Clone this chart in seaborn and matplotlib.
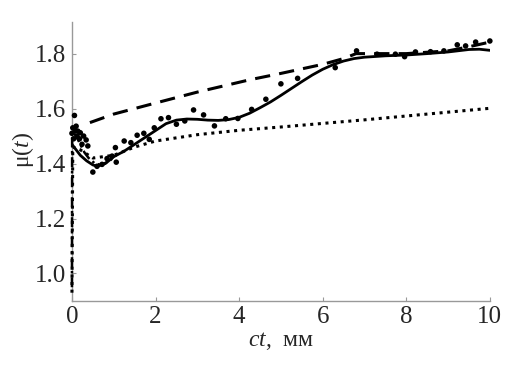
import matplotlib
matplotlib.use("Agg")
import matplotlib.pyplot as plt
import seaborn as sns

# measured points
pts_x = [0.0, 0.02, 0.04, 0.06, 0.08, 0.1, 0.12, 0.14, 0.18, 0.2, 0.24, 0.28, 0.34, 0.38,
         0.5, 0.6, 0.72, 0.84, 0.96, 1.04, 1.06, 1.25, 1.41, 1.56, 1.72, 1.85, 1.97,
         2.13, 2.31, 2.5, 2.7, 2.91, 3.15, 3.41, 3.68, 3.97, 4.3, 4.64, 5.0, 5.4, 6.3,
         6.81, 7.3, 7.74, 7.96, 8.22, 8.58, 8.9, 9.22, 9.42, 9.66, 10.0]
pts_y = [1.51, 1.53, 1.49, 1.575, 1.52, 1.536, 1.50, 1.518, 1.49, 1.512, 1.47, 1.50, 1.486, 1.464,
         1.369, 1.39, 1.397, 1.418, 1.427, 1.458, 1.405, 1.482, 1.476, 1.503, 1.51, 1.488, 1.53,
         1.563, 1.567, 1.543, 1.555, 1.595, 1.577, 1.537, 1.563, 1.564, 1.597, 1.634, 1.69, 1.71, 1.749,
         1.81, 1.798, 1.798, 1.789, 1.806, 1.807, 1.81, 1.832, 1.828, 1.842, 1.846]

# fitted curve (solid)
solid_x = [0.0, 0.1, 0.2, 0.35, 0.5, 0.6, 0.8, 1.0, 1.25, 1.5, 1.75, 2.0, 2.25, 2.5, 2.75,
           3.0, 3.25, 3.5, 3.75, 4.0, 4.25, 4.5, 4.75, 5.0, 5.25, 5.5, 5.75, 6.0, 6.25,
           6.5, 6.75, 7.0, 7.5, 8.0, 8.5, 9.0, 9.5, 9.75, 10.0]
solid_y = [1.47, 1.45, 1.43, 1.41, 1.395, 1.39, 1.40, 1.425, 1.445, 1.47, 1.495, 1.52, 1.545,
           1.558, 1.562, 1.561, 1.558, 1.557, 1.56, 1.568, 1.583, 1.603, 1.624, 1.648, 1.673,
           1.698, 1.722, 1.743, 1.76, 1.773, 1.782, 1.787, 1.792, 1.795, 1.80, 1.806, 1.815,
           1.816, 1.812]

# dashed curve
dash_x = [0.43, 1.0, 1.87, 3.0, 4.26, 5.0, 6.0, 6.5, 6.8, 7.5, 8.0, 8.5, 9.0, 9.5, 10.0]
dash_y = [1.549, 1.58, 1.615, 1.66, 1.705, 1.728, 1.761, 1.782, 1.80, 1.80, 1.80, 1.805,
          1.81, 1.825, 1.842]

# dotted curve
dot_x = [0.0, 0.02, 0.2, 0.5, 1.0, 1.5, 2.0, 3.0, 4.0, 5.0, 6.0, 7.0, 8.0, 9.0, 10.0]
dot_y = [0.93, 1.46, 1.45, 1.42, 1.43, 1.46, 1.482, 1.505, 1.521, 1.533, 1.546, 1.559,
         1.573, 1.587, 1.601]

# dash-dot curve near the origin
dd_x = [0.0, 0.005, 0.1, 0.2, 0.3, 0.4, 0.55, 0.7, 0.9, 1.1]
dd_y = [0.95, 1.52, 1.50, 1.47, 1.44, 1.42, 1.40, 1.395, 1.41, 1.435]

sns.set_theme(style="white")
plt.rcParams["font.family"] = ["Liberation Serif", "DejaVu Serif"]
plt.rcParams["mathtext.fontset"] = "custom"
plt.rcParams["mathtext.rm"] = "Liberation Serif"
plt.rcParams["mathtext.it"] = "Liberation Serif:italic"

fig = plt.figure(figsize=(5.29, 3.67), dpi=100)
ax = fig.add_axes([0.136, 0.180, 0.790, 0.760])

sns.lineplot(x=dot_x, y=dot_y, ax=ax, color="black", lw=2.2, linestyle=(0, (1, 1.5)),
             sort=False, estimator=None, zorder=4, clip_on=False)
sns.lineplot(x=dd_x, y=dd_y, ax=ax, color="black", lw=1.8, linestyle=(0, (4, 1.5, 1, 1.5)),
             sort=False, estimator=None, zorder=4, clip_on=False)
sns.lineplot(x=dash_x, y=dash_y, ax=ax, color="black", lw=2.2, linestyle=(0, (5, 3)),
             sort=False, estimator=None, zorder=3)
sns.lineplot(x=solid_x, y=solid_y, ax=ax, color="black", lw=2.0,
             sort=False, estimator=None, zorder=5)
sns.scatterplot(x=pts_x, y=pts_y, ax=ax, color="black", s=16, edgecolor="none",
                zorder=6, clip_on=False)

ax.set_xlim(0, 10)
ax.set_ylim(0.9, 1.915)
ax.set_xticks([0, 2, 4, 6, 8, 10])
ax.set_yticks([1.0, 1.2, 1.4, 1.6, 1.8])
ax.set_yticklabels(["1.0", "1.2", "1.4", "1.6", "1.8"])
ax.set_xlabel("$ct$,  мм", fontsize=17, labelpad=1)
ax.set_ylabel("μ($t$)", fontsize=17)
ax.yaxis.set_label_coords(-0.085, 0.54)
ax.tick_params(axis="both", direction="in", length=3, width=0.8, color="#999999",
               labelsize=18, pad=4, left=True, bottom=True)

for side in ["top", "right"]:
    ax.spines[side].set_visible(False)
for side in ["left", "bottom"]:
    ax.spines[side].set_color("#999999")
    ax.spines[side].set_linewidth(1.0)
    ax.spines[side].set_zorder(1)

fig.savefig("out.png", dpi=100)
